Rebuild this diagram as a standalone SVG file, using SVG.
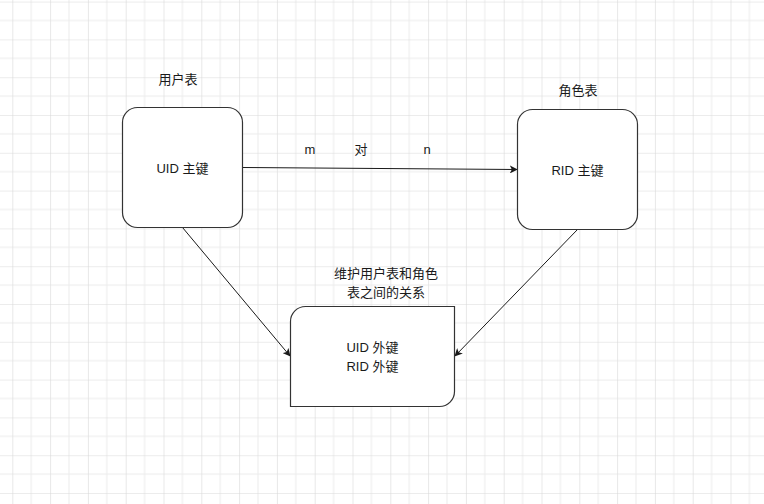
<svg xmlns="http://www.w3.org/2000/svg" width="764" height="504" viewBox="0 0 764 504">
<style>
text{font-family:"Liberation Sans","Noto Sans CJK SC",sans-serif;font-size:13px;fill:#1a1a1a;text-anchor:middle;dominant-baseline:central}
.shape{fill:#ffffff;stroke:#333333;stroke-width:1.2}
.edge{fill:none;stroke:#1a1a1a;stroke-width:1}
</style>
<defs>
<pattern id="grid" x="12.3" y="1.6" width="37.8" height="37.8" patternUnits="userSpaceOnUse">
<path d="M18.9 0V37.8M0 18.9H37.8" stroke="#ececec" stroke-width="1" fill="none"/>
<path d="M0 0V37.8M0 0H37.8" stroke="#d9d9d9" stroke-width="1.2" fill="none"/>
</pattern>
<marker id="arr" viewBox="0 0 10 10" refX="9" refY="5" markerWidth="8" markerHeight="8" markerUnits="userSpaceOnUse" orient="auto">
<path d="M0 0L10 5L0 10L2.5 5Z" fill="#1a1a1a"/>
</marker>
</defs>
<rect width="764" height="504" fill="#ffffff"/>
<rect width="764" height="504" fill="url(#grid)"/>
<g id="connectors">
<path class="edge" d="M242.5 167.5L517 169.5" marker-end="url(#arr)"/>
<path class="edge" d="M182.5 227.5L290 356" marker-end="url(#arr)"/>
<path class="edge" d="M577.5 229.5L455 356" marker-end="url(#arr)"/>
<text x="310" y="149">m</text>
<text x="361" y="149">对</text>
<text x="427" y="149">n</text>
</g>
<g id="user">
<rect class="shape" x="122.5" y="107.5" width="120" height="120" rx="15"/>
<text x="182.5" y="168">UID 主键</text>
<text x="178" y="79">用户表</text>
</g>
<g id="role">
<rect class="shape" x="517.5" y="109.5" width="120" height="120" rx="15"/>
<text x="577.5" y="170">RID 主键</text>
<text x="578" y="90">角色表</text>
</g>
<g id="relation">
<path class="shape" d="M305.5 306.5H454.5V391.5A15 15 0 0 1 439.5 406.5H290.5V321.5A15 15 0 0 1 305.5 306.5Z"/>
<text x="372.5" y="347">UID 外键</text>
<text x="372.5" y="366">RID 外键</text>
<text x="386" y="273">维护用户表和角色</text>
<text x="386" y="292">表之间的关系</text>
</g>
</svg>
